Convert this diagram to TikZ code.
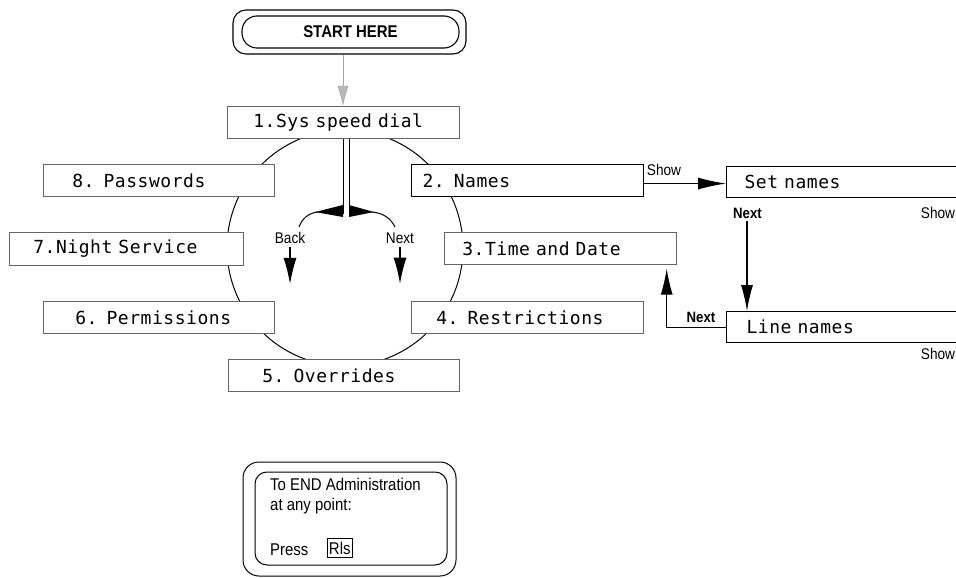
\documentclass[tikz,border=0pt]{standalone}
\usepackage{fontspec}
\setmainfont{Liberation Sans}
\newfontfamily\monofnt[LetterSpace=3,WordSpace=1.3]{DejaVu Sans Mono}
\newfontfamily\narrowfnt[FakeStretch=0.88]{Liberation Sans}
\usetikzlibrary{arrows.meta,calc}
\tikzset{
  menubox/.style={draw=black!60, line width=0.7pt, fill=white, rectangle, anchor=north west,
    minimum height=32pt, align=left, inner ysep=0pt,
    font=\monofnt\fontsize{18}{20}\selectfont},
  activebox/.style={menubox, draw=black, line width=1.1pt},
  lbl/.style={font=\narrowfnt\fontsize{15.5}{17}\selectfont, inner sep=0pt},
  blbl/.style={font=\narrowfnt\bfseries\fontsize{15}{17}\selectfont, inner sep=0pt},
  endtxt/.style={font=\narrowfnt\fontsize{17}{19}\selectfont, inner sep=0pt},
  arr/.style={line width=1.1pt, -{Latex[length=26pt,width=12pt]}},
  roundbox/.style={draw, line width=1.1pt},
}
\begin{document}
\begin{tikzpicture}[x=1pt,y=-1pt]
\clip (0,0) rectangle (956,578);
\fill[white] (0,0) rectangle (956,578);

% ring
\node[circle, draw, line width=1pt, minimum size=236pt, inner sep=0pt] (ring) at (345,248) {};

% start
\node[roundbox, rounded corners=13pt, minimum width=233pt, minimum height=44pt] (startout) at (349.5,32) {};
\node[roundbox, rounded corners=15pt, minimum width=217pt, minimum height=32pt,
  font=\narrowfnt\bfseries\fontsize{17}{19}\selectfont] (start) at (350.5,32) {START HERE};

% menu boxes
\node[menubox, inner xsep=26pt, text width=180pt] (b1) at (227,106) {\mbox{1.Sys speed dial}};
\node[activebox, inner xsep=11pt, text width=210pt] (b2) at (411,164) {\mbox{2. Names}};
\node[menubox, inner xsep=18pt, text width=196pt] (b3) at (444,232) {\mbox{3.Time and Date}};
\node[menubox, inner xsep=25pt, text width=182pt] (b4) at (411,301) {\mbox{4. Restrictions}};
\node[menubox, inner xsep=34pt, text width=163pt] (b5) at (228,359) {\mbox{5. Overrides}};
\node[menubox, inner xsep=32pt, text width=167pt] (b6) at (43,301) {\mbox{6. Permissions}};
\node[menubox, inner xsep=24pt, text width=186pt, minimum height=33pt] (b7) at (9,232) {\mbox{7.Night Service}};
\node[menubox, inner xsep=29pt, text width=173pt] (b8) at (43,164) {\mbox{8. Passwords}};
\node[activebox, inner xsep=18pt, text width=198pt, minimum height=31pt] (setn) at (726,166) {\mbox{Set names}};
\node[activebox, inner xsep=20pt, text width=194pt, minimum height=31pt] (linen) at (726,311) {\mbox{Line names}};

% start arrow
\draw[draw=gray!70, line width=0.7pt, -{Latex[length=20pt,width=11pt,fill=gray!55]}]
  ([xshift=-6.5pt]startout.south) -- ([xshift=-6.5pt]startout.south |- b1.north);

% stem with back / next
\draw[double, double distance=4.5pt, line width=0.9pt] ([xshift=3pt]b1.south) -- ++(0,75);
\fill (343,205) -- (343,217) -- (315,212) -- cycle;
\fill (349,205) -- (349,217) -- (374,212) -- cycle;
\draw[line width=1pt] (318,212) .. controls (308,213) and (302,219) .. (299,227);
\draw[line width=1pt] (372,212) .. controls (384,213) and (391,219) .. (395,227);
\node[lbl] (back) at (290,238) {Back};
\node[lbl] (nextl) at (400,238) {Next};
\draw[arr, -{Latex[length=26pt,width=13pt]}] ([yshift=-3pt]back.south) -- ++(0,37);
\draw[arr, -{Latex[length=26pt,width=13pt]}] ([yshift=-3pt]nextl.south) -- ++(0,37);

% names sub-menu
\draw[arr, -{Latex[length=28pt,width=12pt]}] ([yshift=-3pt]b2.east) -- ([yshift=-3pt]b2.east -| setn.west);
\node[lbl] (show1) at (664,170) {Show};
\node[lbl] (show2) at (938,213) {Show};
\node[lbl] (show3) at (938,354) {Show};
\node[blbl] (next1) at (747.5,213) {Next};
\node[blbl] (next2) at (701,317) {Next};
\coordinate (nx) at (747,221);
\draw[arr] (nx) -- (nx |- linen.north);
\draw[arr] (linen.west) -| ([xshift=-10pt,yshift=-4pt]b3.south east);

% end box
\node[draw, line width=1pt, rounded corners=16pt, minimum width=213pt, minimum height=114pt] (endout) at (349.5,519) {};
\node[draw, line width=1pt, rounded corners=12pt, minimum width=192pt, minimum height=93pt] (endin) at (351,518.5) {};
\node[endtxt, anchor=base west] (e1) at (270,490) {To END Administration};
\node[endtxt, anchor=base west] (e2) at (270,510) {at any point:};
\node[endtxt, anchor=base west] (e3) at (270,555) {Press};
\node[endtxt, draw, line width=0.9pt, inner xsep=1.5pt, inner ysep=3pt, anchor=base west] (rls) at (327,554) {Rls};
\end{tikzpicture}
\end{document}
